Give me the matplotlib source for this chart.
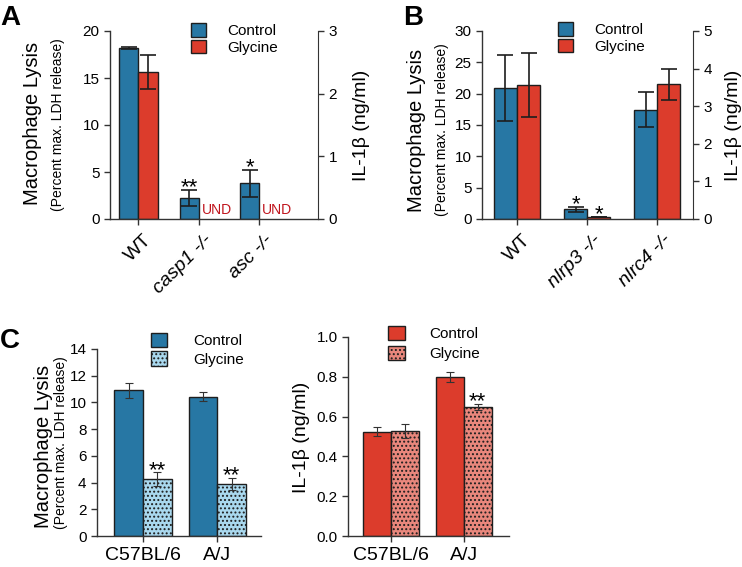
import numpy as np
import matplotlib

matplotlib.use("Agg")
import matplotlib.pyplot as plt
from matplotlib.patches import Patch
from matplotlib.transforms import ScaledTranslation

plt.rcParams["font.family"] = ["Liberation Sans", "DejaVu Sans"]
plt.rcParams["hatch.linewidth"] = 0.9

# ---- data -----------------------------------------------------------------
a_groups = ["WT", "casp1 -/-", "asc -/-"]
a_control = [18.15, 2.25, 3.8]
a_control_err = [0.1, 0.85, 1.45]
a_glycine = [15.65, None, None]  # None = undetected (UND)
a_glycine_err = [1.8, None, None]
a_stars = ["", "**", "*"]

b_groups = ["WT", "nlrp3 -/-", "nlrc4 -/-"]
b_control = [20.9, 1.55, 17.45]
b_control_err = [5.2, 0.4, 2.8]
b_glycine = [21.4, 0.3, 21.5]
b_glycine_err = [5.1, 0.05, 2.5]
b_stars_control = ["", "*", ""]
b_stars_glycine = ["", "*", ""]

c_groups = ["C57BL/6", "A/J"]
c_lysis_control = [10.9, 10.42]
c_lysis_control_err = [0.57, 0.33]
c_lysis_glycine = [4.27, 3.87]
c_lysis_glycine_err = [0.5, 0.46]
c_il_control = [0.524, 0.8]
c_il_control_err = [0.022, 0.025]
c_il_glycine = [0.527, 0.649]
c_il_glycine_err = [0.034, 0.014]
c_il_stars = ["", "**"]

BLUE = "#2777a4"
RED = "#dc3c2c"
LIGHT_BLUE = "#a9d8ee"
SALMON = "#e9877c"
EDGE = "#1e1e1e"
SPINE = "#333333"
UND_RED = "#c0141c"

W, H = 742, 567
fig = plt.figure(figsize=(W / 100, H / 100), dpi=100)


def px_axes(left, top, right, bottom):
    return fig.add_axes([left / W, 1 - bottom / H, (right - left) / W, (bottom - top) / H])


def style_axis(ax, right=False):
    for side in ("top", "right"):
        ax.spines[side].set_visible(False)
    if right:
        ax.spines["right"].set_visible(True)
    for sp in ax.spines.values():
        sp.set_color(SPINE)
        sp.set_linewidth(1.0)
    ax.tick_params(direction="out", length=4, width=1, color=SPINE, labelsize=11)


def ylabel_pair(x_big, x_small, y_big, y_small):
    fig.text(x_big / W, 1 - y_big / H, "Macrophage Lysis", rotation=90,
             ha="center", va="center", fontsize=14.5)
    fig.text(x_small / W, 1 - y_small / H, "(Percent max. LDH release)", rotation=90,
             ha="center", va="center", fontsize=10)


def star(ax, x, y, s, size=16):
    if s:
        ax.annotate(s, (x, y), xytext=(0, -2.5), textcoords="offset points",
                    ha="center", va="baseline", fontsize=size)


def legend(ax, handles, x, y, pad, spacing, hl=0.95, hh=1.0):
    ax.legend(handles=handles, loc="upper left", bbox_to_anchor=(x / W, 1 - y / H),
              bbox_transform=fig.transFigure, frameon=False, fontsize=11,
              borderpad=0, borderaxespad=0, handlelength=hl, handleheight=hh,
              handletextpad=pad, labelspacing=spacing)


def slanted_labels(ax, labels):
    ax.set_xticks(np.arange(len(labels)), labels, rotation=45, ha="right",
                  rotation_mode="anchor", fontsize=14)
    ax.tick_params(axis="x", pad=5)
    shift = ScaledTranslation(5 / 100, 0, fig.dpi_scale_trans)
    for i, lab in enumerate(ax.get_xticklabels()):
        lab.set_transform(lab.get_transform() + shift)
        if i > 0:
            lab.set_fontstyle("italic")


# ---- panel A --------------------------------------------------------------
ax = px_axes(110, 31, 318, 219)
x = np.arange(len(a_groups))
w = 0.32
ax.bar(x - w / 2, a_control, w, color=BLUE, edgecolor=EDGE, linewidth=1,
       yerr=a_control_err, error_kw=dict(ecolor=EDGE, elinewidth=1.2, capsize=5.5, capthick=1.2))
gx = [xi + w / 2 for xi, v in zip(x, a_glycine) if v is not None]
gv = [v for v in a_glycine if v is not None]
ge = [e for e in a_glycine_err if e is not None]
ax.bar(gx, gv, w, color=RED, edgecolor=EDGE, linewidth=1,
       yerr=ge, error_kw=dict(ecolor=EDGE, elinewidth=1.2, capsize=5.5, capthick=1.2))
for xi, v in zip(x, a_glycine):
    if v is None:
        ax.text(xi + 0.05, 0.2, "UND", color=UND_RED, fontsize=10, ha="left", va="bottom")
for xi, v, e, s in zip(x, a_control, a_control_err, a_stars):
    star(ax, xi - w / 2, v + e, s)
ax.set_xlim(-0.47, 2.97)
ax.set_ylim(0, 20)
ax.set_yticks([0, 5, 10, 15, 20])
style_axis(ax)
slanted_labels(ax, a_groups)
ax2 = ax.twinx()
ax2.set_ylim(0, 3)
ax2.set_yticks([0, 1, 2, 3])
for side in ("top", "left", "bottom"):
    ax2.spines[side].set_visible(False)
ax2.spines["right"].set_color(SPINE)
ax2.tick_params(direction="out", length=4, width=1, color=SPINE, labelsize=11)
legend(ax2, [Patch(facecolor=BLUE, edgecolor=EDGE, label="Control"),
             Patch(facecolor=RED, edgecolor=EDGE, label="Glycine")],
       191, 23, 1.45, 0.1)
ylabel_pair(33, 58, 123, 125)
fig.text(362 / W, 1 - 125 / H, "IL-1β (ng/ml)", rotation=90, ha="center", va="center", fontsize=14)
fig.text(0, 1 - 25 / H, "A", fontsize=20, fontweight="bold", ha="left", va="baseline")

# ---- panel B --------------------------------------------------------------
ax = px_axes(482, 31, 693, 219)
x = np.arange(len(b_groups))
w = 0.33
ekw = dict(ecolor=EDGE, elinewidth=1.2, capsize=5.5, capthick=1.2)
ax.bar(x - w / 2, b_control, w, color=BLUE, edgecolor=EDGE, linewidth=1, yerr=b_control_err, error_kw=ekw)
ax.bar(x + w / 2, b_glycine, w, color=RED, edgecolor=EDGE, linewidth=1, yerr=b_glycine_err, error_kw=ekw)
for xi, v, e, s in zip(x, b_control, b_control_err, b_stars_control):
    star(ax, xi - w / 2, v + e, s)
for xi, v, e, s in zip(x, b_glycine, b_glycine_err, b_stars_glycine):
    star(ax, xi + w / 2, v + e, s)
ax.set_xlim(-0.5, 2.51)
ax.set_ylim(0, 30)
ax.set_yticks(range(0, 31, 5))
style_axis(ax)
slanted_labels(ax, b_groups)
ax2 = ax.twinx()
ax2.set_ylim(0, 5)
ax2.set_yticks(range(0, 6))
for side in ("top", "left", "bottom"):
    ax2.spines[side].set_visible(False)
ax2.spines["right"].set_color(SPINE)
ax2.tick_params(direction="out", length=4, width=1, color=SPINE, labelsize=11)
legend(ax2, [Patch(facecolor=BLUE, edgecolor=EDGE, label="Control"),
             Patch(facecolor=RED, edgecolor=EDGE, label="Glycine")],
       558, 22, 1.45, 0.1)
ylabel_pair(417, 442, 130, 130)
fig.text(733 / W, 1 - 125 / H, "IL-1β (ng/ml)", rotation=90, ha="center", va="center", fontsize=14)
fig.text(403 / W, 1 - 25 / H, "B", fontsize=20, fontweight="bold", ha="left", va="baseline")

# ---- panel C left ---------------------------------------------------------
ekw_c = dict(ecolor="#333333", elinewidth=0.8, capsize=3, capthick=0.8)
ax = px_axes(97, 349, 261, 536)
x = np.arange(len(c_groups))
w = 0.385
ax.bar(x - w / 2, c_lysis_control, w, color=BLUE, edgecolor=EDGE, linewidth=1,
       yerr=c_lysis_control_err, error_kw=ekw_c)
ax.bar(x + w / 2, c_lysis_glycine, w, color=LIGHT_BLUE, edgecolor=EDGE, linewidth=1,
       hatch="....", yerr=c_lysis_glycine_err, error_kw=ekw_c)
for xi, v, e in zip(x, c_lysis_glycine, c_lysis_glycine_err):
    star(ax, xi + w / 2, v + e, "**")
ax.set_xlim(-0.62, 1.59)
ax.set_ylim(0, 14)
ax.set_yticks(range(0, 15, 2))
style_axis(ax)
ax.set_xticks(x, c_groups, fontsize=14)
ax.tick_params(axis="x", pad=4)
legend(ax, [Patch(facecolor=BLUE, edgecolor=EDGE, label="Control"),
            Patch(facecolor=LIGHT_BLUE, edgecolor=EDGE, hatch="....", label="Glycine")],
       151, 333, 1.7, 0.2, hl=1.05, hh=1.05)
ylabel_pair(44, 61, 446, 443)
fig.text(0, 1 - 348 / H, "C", fontsize=20, fontweight="bold", ha="left", va="baseline")

# ---- panel C right --------------------------------------------------------
ax = px_axes(348, 337, 509, 536)
w = 0.38
ax.bar(x - w / 2, c_il_control, w, color=RED, edgecolor=EDGE, linewidth=1,
       yerr=c_il_control_err, error_kw=ekw_c)
ax.bar(x + w / 2, c_il_glycine, w, color=SALMON, edgecolor=EDGE, linewidth=1,
       hatch="....", yerr=c_il_glycine_err, error_kw=ekw_c)
for xi, v, e, s in zip(x, c_il_glycine, c_il_glycine_err, c_il_stars):
    star(ax, xi + w / 2, v + e, s)
ax.set_xlim(-0.59, 1.62)
ax.set_ylim(0, 1.0)
ax.set_yticks(np.arange(0, 1.01, 0.2))
ax.yaxis.set_major_formatter(matplotlib.ticker.FormatStrFormatter("%.1f"))
style_axis(ax)
ax.set_xticks(x, c_groups, fontsize=14)
ax.tick_params(axis="x", pad=4)
legend(ax, [Patch(facecolor=RED, edgecolor=EDGE, label="Control"),
            Patch(facecolor=SALMON, edgecolor=EDGE, hatch="....", label="Glycine")],
       388, 326, 1.6, 0.3, hl=1.1, hh=1.05)
fig.text(301 / W, 1 - 437 / H, "IL-1β (ng/ml)", rotation=90, ha="center", va="center", fontsize=14)

fig.savefig("out.png", dpi=100)
